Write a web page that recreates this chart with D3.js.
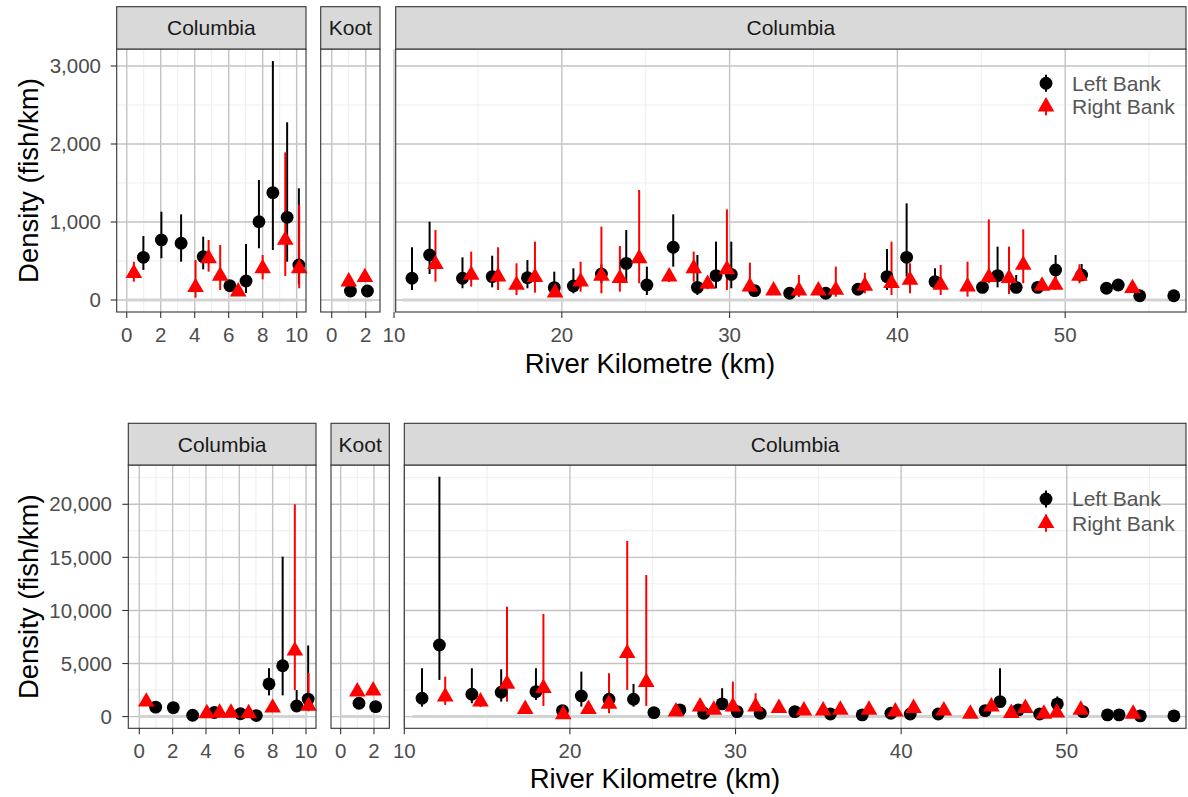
<!DOCTYPE html>
<html><head><meta charset="utf-8">
<script src="https://cdn.jsdelivr.net/npm/d3@7"></script>
<style>body{margin:0;background:#fff} text{font-family:"Liberation Sans",Arial,Helvetica,sans-serif}</style>
</head><body><script>
// ---------------- DATA ----------------
const panelNames = ["Columbia", "Koot", "Columbia"];
const bankNames = ["Left Bank", "Right Bank"];
const xAxisTitle = "River Kilometre (km)";
const yAxisTitle = "Density (fish/km)";

// river km of sites
const kmUpL = [0.98, 2.04, 3.2, 4.5, 6.07, 7.02, 7.78, 8.6, 9.44, 10.13];
const kmUpR = [0.42, 4.05, 4.82, 5.5, 6.56, 8.0, 9.33, 10.15];
const kmKootL = [1.1, 2.1];
const kmKootR = [1.0, 1.95];
const kmMainL = [11.07, 12.12, 14.08, 15.85, 17.95, 19.55, 20.69, 22.36, 23.84, 25.07, 26.64, 28.08, 29.19, 30.1, 31.49, 33.58, 35.73, 37.65, 39.38, 40.55, 42.24, 45.07, 45.97, 47.08, 48.36, 49.43, 50.98, 52.46, 53.16, 54.44, 56.47];
const kmMainR = [12.47, 14.6, 16.2, 17.3, 18.4, 19.6, 21.12, 22.36, 23.46, 24.61, 26.4, 27.86, 28.69, 29.84, 31.21, 32.62, 34.13, 35.29, 36.33, 38.06, 39.65, 40.75, 42.58, 44.18, 45.45, 46.65, 47.5, 48.62, 49.4, 50.85, 54.01];

// ---- top chart ----
const topUpL   = [547, 770, 727, 555, 183, 244, 1004, 1376, 1060, 449];
const topUpLlo = [385, 535, 491, 393, 120, 90, 663, 641, 491, 200];
const topUpLhi = [820, 1132, 1098, 812, 250, 718, 1538, 3064, 2278, 1432];
const topUpR   = [342, 163, 534, 308, 107, 406, 769, 406];
const topUpRlo = [235, 30, 363, 128, 50, 265, 308, 150];
const topUpRhi = [491, 513, 769, 705, 160, 577, 1893, 1218];
const topKootL = [115, 115], topKootLlo = [70, 70], topKootLhi = [170, 170];
const topKootR = [235, 291], topKootRlo = [180, 230], topKootRhi = [300, 360];
const topMainL   = [278, 577, 278, 299, 286, 158, 180, 333, 470, 192, 676, 162, 312, 329, 120, 86, 86, 137, 299, 547, 235, 162, 312, 162, 162, 385, 320, 150, 192, 55, 55];
const topMainLlo = [128, 333, 150, 162, 150, 64, 86, 214, 235, 64, 427, 64, 150, 150, 70, 40, 40, 90, 128, 299, 171, 110, 162, 100, 110, 256, 250, 100, 140, 20, 20];
const topMainLhi = [676, 1004, 547, 568, 513, 363, 406, 458, 897, 427, 1098, 577, 748, 748, 180, 150, 140, 190, 654, 1239, 406, 220, 684, 320, 220, 577, 462, 200, 250, 100, 100];
const topMainR   = [458, 320, 299, 192, 291, 94, 235, 308, 278, 534, 299, 406, 205, 393, 171, 120, 120, 120, 128, 180, 214, 256, 192, 171, 291, 278, 449, 180, 192, 308, 150];
const topMainRlo = [235, 171, 128, 64, 94, 40, 107, 86, 107, 214, 230, 235, 140, 128, 107, 80, 40, 80, 43, 86, 64, 86, 64, 43, 214, 77, 214, 120, 130, 214, 100];
const topMainRhi = [897, 620, 676, 470, 748, 160, 491, 940, 692, 1410, 370, 620, 270, 1162, 479, 170, 320, 170, 427, 350, 748, 470, 449, 491, 1034, 684, 906, 240, 250, 458, 200];

// ---- bottom chart ----
const botUpL   = [890, 850, 130, 390, 270, 100, 3080, 4790, 1000, 1650];
const botUpLlo = [600, 550, 20, 150, 100, 20, 2000, 2000, 600, 600];
const botUpLhi = [1150, 1100, 300, 700, 500, 250, 4560, 15066, 2500, 6700];
const botUpR   = [1400, 300, 350, 350, 300, 830, 6200, 1000];
const botUpRlo = [1000, 100, 150, 150, 100, 500, 2500, 500];
const botUpRhi = [1900, 500, 600, 600, 500, 1200, 20000, 4100];
const botKootL = [1260, 940], botKootLlo = [900, 650], botKootLhi = [1600, 1250];
const botKootR = [2350, 2450], botKootRlo = [2000, 2100], botKootRhi = [2700, 2800];
const botMainL   = [1733, 6751, 2109, 2297, 2354, 565, 1949, 1638, 1638, 377, 631, 320, 1196, 471, 320, 470, 250, 160, 320, 250, 250, 565, 1412, 631, 250, 1196, 470, 160, 160, 70, 70];
const botMainLlo = [942, 3456, 1262, 1412, 1572, 300, 942, 900, 942, 200, 400, 150, 790, 250, 150, 200, 100, 50, 150, 100, 100, 300, 900, 400, 100, 900, 250, 50, 50, 20, 20];
const botMainLhi = [4557, 22600, 4557, 4463, 4557, 900, 4237, 2514, 3079, 600, 900, 600, 2674, 800, 500, 700, 450, 350, 600, 500, 500, 900, 4557, 900, 450, 1900, 800, 300, 300, 150, 150];
const botMainR   = [1883, 1412, 3079, 697, 2674, 200, 697, 1196, 5970, 3239, 471, 942, 631, 942, 942, 790, 565, 565, 631, 631, 470, 790, 565, 250, 942, 320, 790, 250, 376, 631, 250];
const botMainRlo = [1100, 900, 1412, 400, 1007, 50, 400, 320, 2514, 1007, 250, 600, 350, 471, 500, 500, 300, 300, 350, 350, 250, 500, 300, 100, 600, 150, 500, 100, 200, 350, 100];
const botMainRhi = [3766, 2000, 10358, 1000, 9670, 400, 1000, 4086, 16544, 13342, 700, 1300, 900, 3296, 2203, 1100, 800, 800, 900, 900, 700, 1100, 800, 400, 1300, 500, 1100, 400, 600, 900, 400];

// zero reference line extents (km) per panel
const zeroLineKm = [[0, 10.1], [0, 2.4], [10.5, 56.7]];

// tick values
const xMajor = [[0, 2, 4, 6, 8, 10], [0, 2], [10, 20, 30, 40, 50]];
const xMinor = [[1, 3, 5, 7, 9], [1], [15, 25, 35, 45, 55]];
const yMajorTop = [0, 1000, 2000, 3000];
const yMinorTop = [500, 1500, 2500];
const yMajorBot = [0, 5000, 10000, 15000, 20000];
const yMinorBot = [2500, 7500, 12500, 17500, 22500];

// ---------------- BUILD ----------------
const series = (km, v, lo, hi) => km.map((k, i) => ({km: k, v: v[i], lo: lo[i], hi: hi[i]}));
const rowsData = [
  [
    {L: series(kmUpL, topUpL, topUpLlo, topUpLhi), R: series(kmUpR, topUpR, topUpRlo, topUpRhi)},
    {L: series(kmKootL, topKootL, topKootLlo, topKootLhi), R: series(kmKootR, topKootR, topKootRlo, topKootRhi)},
    {L: series(kmMainL, topMainL, topMainLlo, topMainLhi), R: series(kmMainR, topMainR, topMainRlo, topMainRhi)}
  ],
  [
    {L: series(kmUpL, botUpL, botUpLlo, botUpLhi), R: series(kmUpR, botUpR, botUpRlo, botUpRhi)},
    {L: series(kmKootL, botKootL, botKootLlo, botKootLhi), R: series(kmKootR, botKootR, botKootRlo, botKootRhi)},
    {L: series(kmMainL, botMainL, botMainLlo, botMainLhi), R: series(kmMainR, botMainR, botMainRlo, botMainRhi)}
  ]
];

// ---------------- LAYOUT ----------------
const W = 1188, H = 797;
const rowLayout = [
  {stripTop: 6.7, top: 49, bottom: 312, yDom: [-154, 3218], yMajor: yMajorTop, yMinor: yMinorTop,
   yLabelX: 101, titleX: 650, titleY: 373, yTitleY: 180.5, legendY: [83.3, 106.7],
   panels: [{x0: 116.7, x1: 306, dom: [-0.59, 10.55]}, {x0: 320.7, x1: 380, dom: [-0.65, 2.84]}, {x0: 395.7, x1: 1186, dom: [10.1, 57.2]}]},
  {stripTop: 423.3, top: 465, bottom: 728.3, yDom: [-1100, 23700], yMajor: yMajorBot, yMinor: yMinorBot,
   yLabelX: 112, titleX: 655, titleY: 788, yTitleY: 596.7, legendY: [499, 523.3],
   panels: [{x0: 128.3, x1: 316, dom: [-0.66, 10.6]}, {x0: 331, x1: 389.3, dom: [-0.58, 2.92]}, {x0: 404.3, x1: 1186, dom: [10.0, 57.2]}]}
];
const colL = "#000000", colR = "#ff0000";
const circleSize = 130, triSize = 120;
const fmt = d3.format(",");

const svg = d3.select("body").append("svg").attr("width", W).attr("height", H)
  .style("background", "#fff");

rowLayout.forEach((row, ri) => {
  const y = d3.scaleLinear().domain(row.yDom).range([row.bottom, row.top]);
  row.panels.forEach((p, pi) => {
    const x = d3.scaleLinear().domain(p.dom).range([p.x0, p.x1]);
    const g = svg.append("g");
    const d = rowsData[ri][pi];
    g.append("rect").attr("x", p.x0).attr("y", row.top).attr("width", p.x1 - p.x0).attr("height", row.bottom - row.top).attr("fill", "#fff");
    // minor grid
    g.selectAll(".hmin").data(row.yMinor).join("line")
      .attr("x1", p.x0).attr("x2", p.x1).attr("y1", v => y(v)).attr("y2", v => y(v))
      .attr("stroke", "#ebebeb").attr("stroke-width", 0.9);
    g.selectAll(".vmin").data(xMinor[pi]).join("line")
      .attr("y1", row.top).attr("y2", row.bottom).attr("x1", v => x(v)).attr("x2", v => x(v))
      .attr("stroke", "#ebebeb").attr("stroke-width", 0.9);
    // major grid
    g.selectAll(".hmaj").data(row.yMajor).join("line")
      .attr("x1", p.x0).attr("x2", p.x1).attr("y1", v => y(v)).attr("y2", v => y(v))
      .attr("stroke", "#c3c3c3").attr("stroke-width", 1.4);
    g.selectAll(".vmaj").data(xMajor[pi]).join("line")
      .attr("y1", row.top).attr("y2", row.bottom).attr("x1", v => x(v)).attr("x2", v => x(v))
      .attr("stroke", "#c3c3c3").attr("stroke-width", 1.4);
    // zero line
    g.append("line").attr("x1", x(zeroLineKm[pi][0])).attr("x2", x(zeroLineKm[pi][1]))
      .attr("y1", y(0)).attr("y2", y(0)).attr("stroke", "#d3d3d3").attr("stroke-width", 3);
    // error bars
    const bars = [...d.L.map(o => ({...o, c: colL})), ...d.R.map(o => ({...o, c: colR}))];
    g.selectAll(".eb").data(bars).join("line")
      .attr("x1", o => x(o.km)).attr("x2", o => x(o.km)).attr("y1", o => y(o.lo)).attr("y2", o => y(o.hi))
      .attr("stroke", o => o.c).attr("stroke-width", 2);
    // points
    g.selectAll(".pl").data(d.L).join("path")
      .attr("d", d3.symbol(d3.symbolCircle, circleSize))
      .attr("transform", o => `translate(${x(o.km)},${y(o.v)})`).attr("fill", colL);
    g.selectAll(".pr").data(d.R).join("path")
      .attr("d", d3.symbol(d3.symbolTriangle, triSize))
      .attr("transform", o => `translate(${x(o.km)},${y(o.v)})`).attr("fill", colR);
    // border
    g.append("rect").attr("x", p.x0).attr("y", row.top).attr("width", p.x1 - p.x0).attr("height", row.bottom - row.top)
      .attr("fill", "none").attr("stroke", "#333").attr("stroke-width", 1.1);
    // strip
    g.append("rect").attr("x", p.x0).attr("y", row.stripTop).attr("width", p.x1 - p.x0).attr("height", row.top - row.stripTop)
      .attr("fill", "#d9d9d9").attr("stroke", "#333").attr("stroke-width", 1.1);
    g.append("text").attr("x", (p.x0 + p.x1) / 2).attr("y", (row.stripTop + row.top) / 2).attr("dy", "0.35em")
      .attr("text-anchor", "middle").attr("font-size", 21).attr("fill", "#1a1a1a").text(panelNames[pi]);
    // x axis ticks
    g.selectAll(".xt").data(xMajor[pi]).join("line")
      .attr("x1", v => x(v)).attr("x2", v => x(v)).attr("y1", row.bottom).attr("y2", row.bottom + 6)
      .attr("stroke", "#333").attr("stroke-width", 1.1);
    g.selectAll(".xl").data(xMajor[pi]).join("text")
      .attr("x", v => x(v)).attr("y", row.bottom + 30).attr("text-anchor", "middle")
      .attr("font-size", 20.5).attr("fill", "#4d4d4d").text(v => v);
    if (pi === 0) {
      g.selectAll(".yt").data(row.yMajor).join("line")
        .attr("x1", p.x0 - 6).attr("x2", p.x0).attr("y1", v => y(v)).attr("y2", v => y(v))
        .attr("stroke", "#333").attr("stroke-width", 1.1);
      g.selectAll(".yl").data(row.yMajor).join("text")
        .attr("x", row.yLabelX).attr("y", v => y(v)).attr("dy", "0.35em").attr("text-anchor", "end")
        .attr("font-size", 20.5).attr("fill", "#4d4d4d").text(v => fmt(v));
    }
  });
  // axis titles
  svg.append("text").attr("x", row.titleX).attr("y", row.titleY).attr("text-anchor", "middle")
    .attr("font-size", 27.5).attr("fill", "#000").text(xAxisTitle);
  svg.append("text").attr("transform", `translate(37.5,${row.yTitleY}) rotate(-90)`).attr("text-anchor", "middle")
    .attr("font-size", 27.5).attr("fill", "#000").text(yAxisTitle);
  // legend
  const lx = 1046, tx = 1072;
  const lg = svg.append("g");
  [colL, colR].forEach((c, i) => {
    const cy = row.legendY[i];
    lg.append("line").attr("x1", lx).attr("x2", lx).attr("y1", cy - 8.5).attr("y2", cy + 8.5).attr("stroke", c).attr("stroke-width", 2);
    lg.append("path").attr("d", d3.symbol(i === 0 ? d3.symbolCircle : d3.symbolTriangle, i === 0 ? circleSize : triSize))
      .attr("transform", `translate(${lx},${cy})`).attr("fill", c);
    lg.append("text").attr("x", tx).attr("y", cy).attr("dy", "0.35em").attr("font-size", 21).attr("fill", "#555").text(bankNames[i]);
  });
});
</script></body></html>
